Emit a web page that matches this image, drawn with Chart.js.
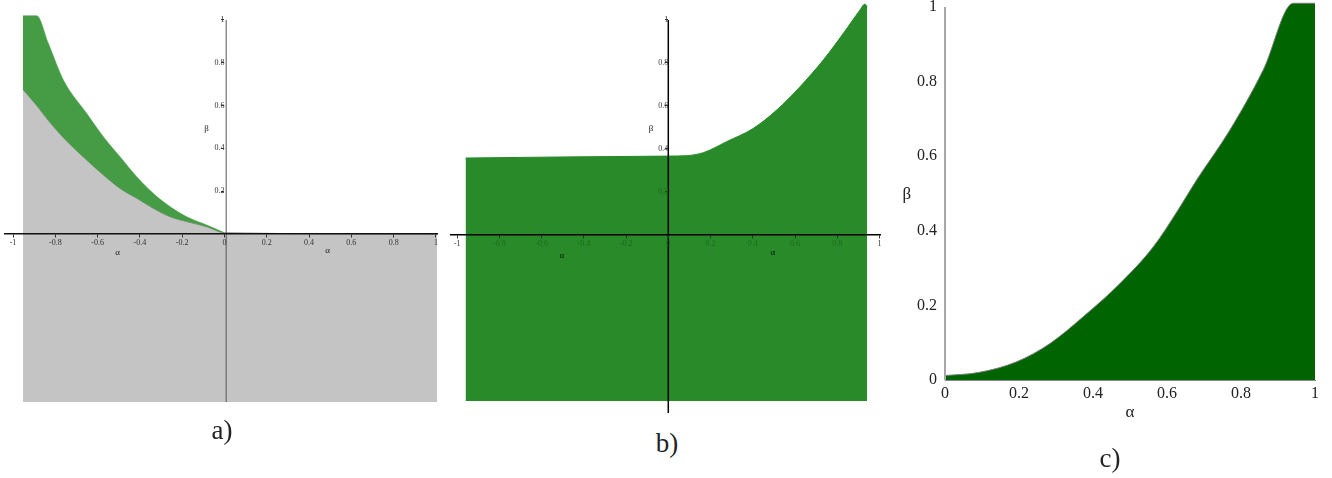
<!DOCTYPE html>
<html>
<head>
<meta charset="utf-8">
<script src="https://cdn.jsdelivr.net/npm/chart.js@4.4.1/dist/chart.umd.min.js"></script>
<style>
  body { margin: 0; background: #fff; width: 1332px; height: 478px; position: relative; overflow: hidden; }
  .panel { position: absolute; }
  .cap { position: absolute; width: 60px; text-align: center; font-family: "Liberation Serif", serif; font-size: 27px; line-height: 27px; color: #222; }
</style>
</head>
<body>
<div class="panel" style="left:0;top:0"><canvas id="chart-a" width="450" height="420"></canvas></div>
<div class="panel" style="left:450px;top:-10px"><canvas id="chart-b" width="440" height="432"></canvas></div>
<div class="panel" style="left:900px;top:-18px"><canvas id="chart-c" width="432" height="496"></canvas></div>
<div class="cap" style="left:192px;top:417px">a)</div>
<div class="cap" style="left:637px;top:430px">b)</div>
<div class="cap" style="left:1080px;top:445px">c)</div>
<script>
// panel a: green band between two curves, grey region below
const alphaA = [-0.953, -0.888, -0.833, -0.762, -0.652, -0.573, -0.494, -0.415, -0.337, -0.258, -0.179, -0.084, 0];
const upperA = [1.02, 1.02, 0.891, 0.72, 0.564, 0.455, 0.361, 0.268, 0.19, 0.128, 0.081, 0.042, 0.006];
const greyAlphaA = [-0.953, -0.888, -0.833, -0.762, -0.652, -0.573, -0.494, -0.415, -0.337, -0.258, -0.179, -0.084, 0, 1.008];
const greyBetaA = [0.675, 0.6, 0.53, 0.45, 0.346, 0.276, 0.213, 0.167, 0.12, 0.081, 0.058, 0.034, 0.006, 0];
const greyFloorA = -0.785;

// panel b: one green region
const alphaB = [-0.96, -0.5, 0, 0.087, 0.166, 0.276, 0.403, 0.513, 0.624, 0.734, 0.829, 0.908, 0.931, 0.942];
const betaB = [0.358, 0.363, 0.367, 0.369, 0.383, 0.434, 0.496, 0.581, 0.69, 0.814, 0.938, 1.047, 1.074, 1.06];
const floorB = -0.772;

// panel c: region below the boundary curve
const alphaC = [0, 0.09, 0.194, 0.284, 0.374, 0.473, 0.563, 0.63, 0.68, 0.77, 0.86, 0.941, 1.0];
const betaC = [0.012, 0.02, 0.049, 0.098, 0.17, 0.259, 0.357, 0.456, 0.536, 0.67, 0.831, 1.01, 1.01];

const tickStep = 0.2;

const pts = (xs, ys) => xs.map((x, i) => ({x: x, y: ys[i]}));
const fmt = v => String(+v.toFixed(1));
const serif = '"Liberation Serif", "Times New Roman", serif';

// vertical axis lines and the extra alpha / beta letters, placed through the scales
const axisText = {
  id: 'axisText',
  afterDatasetsDraw(chart, args, opts) {
    const ctx = chart.ctx;
    const sx = chart.scales.x, sy = chart.scales.y;
    ctx.save();
    (opts.lines || []).forEach(l => {
      ctx.strokeStyle = l.color;
      ctx.lineWidth = l.width;
      ctx.beginPath();
      ctx.moveTo(sx.getPixelForValue(l.x1), sy.getPixelForValue(l.y1));
      ctx.lineTo(sx.getPixelForValue(l.x2), sy.getPixelForValue(l.y2));
      ctx.stroke();
    });
    ctx.font = opts.font;
    ctx.fillStyle = opts.color;
    ctx.textAlign = 'center';
    ctx.textBaseline = 'middle';
    opts.items.forEach(it => {
      ctx.fillText(it.text, sx.getPixelForValue(it.x), sy.getPixelForValue(it.y));
    });
    ctx.restore();
  }
};

const smallTicks = {family: serif, size: 8};

function crossAxes(xr, yr, xCol, yCol, xBorder) {
  return {
    x: {
      type: 'linear', min: xr[0], max: xr[1], position: {y: 0},
      ticks: {stepSize: tickStep, includeBounds: false, autoSkip: false, maxRotation: 0, z: 2,
        font: smallTicks, color: xCol, padding: 1, callback: v => fmt(v)},
      grid: {drawOnChartArea: false, tickLength: 3, color: '#333', z: 1},
      border: Object.assign({z: 1}, xBorder)
    },
    y: {
      type: 'linear', min: yr[0], max: yr[1], position: {x: 0},
      ticks: {stepSize: tickStep, includeBounds: false, autoSkip: false, z: 2,
        font: smallTicks, color: yCol, padding: 4, callback: v => (v > 0.01 && v < 1.01) ? fmt(v) : null},
      grid: {drawOnChartArea: false, tickLength: 3, color: '#333', z: 1},
      border: {display: false}
    }
  };
}

new Chart(document.getElementById('chart-a'), {
  type: 'line',
  data: {
    datasets: [
      {data: pts(alphaA, upperA), fill: '+1', backgroundColor: '#459c45', borderColor: '#459c45', borderWidth: 0.5,
        pointRadius: 0, cubicInterpolationMode: 'monotone', clip: false},
      {data: pts(greyAlphaA, greyBetaA), fill: {value: greyFloorA}, backgroundColor: '#c4c4c4',
        borderColor: '#6a6a6a', borderWidth: 0.7, pointRadius: 0, cubicInterpolationMode: 'monotone', clip: false}
    ]
  },
  options: {
    responsive: false, animation: false,
    layout: {autoPadding: false, padding: {left: 5, right: 13, top: 14, bottom: 18}},
    plugins: {
      legend: {display: false}, tooltip: {enabled: false},
      axisText: {font: '9px ' + serif, color: '#222',
        lines: [{x1: 0.008, y1: 1, x2: 0.008, y2: greyFloorA, color: '#555', width: 1}],
        items: [{text: 'α', x: -0.506, y: -0.089}, {text: 'α', x: 0.488, y: -0.079}, {text: 'β', x: -0.085, y: 0.49}]}
    },
    scales: crossAxes([-1.038, 1.005], [greyFloorA, 1.028], '#333', '#333', {color: '#111', width: 1.5})
  },
  plugins: [axisText]
});

new Chart(document.getElementById('chart-b'), {
  type: 'line',
  data: {
    datasets: [
      {data: pts(alphaB, betaB), fill: {value: floorB}, backgroundColor: '#288a28', borderColor: '#288a28',
        borderWidth: 1, pointRadius: 0, cubicInterpolationMode: 'monotone', clip: false}
    ]
  },
  options: {
    responsive: false, animation: false,
    layout: {autoPadding: false, padding: {left: 0, right: 10, top: 12, bottom: 9}},
    plugins: {
      legend: {display: false}, tooltip: {enabled: false},
      axisText: {font: '9px ' + serif, color: '#111',
        lines: [{x1: 0, y1: 1, x2: 0, y2: -0.828, color: '#000', width: 1.5}],
        items: [{text: 'α', x: -0.504, y: -0.098}, {text: 'α', x: 0.495, y: -0.084}, {text: 'β', x: -0.082, y: 0.493}]}
    },
    scales: crossAxes([-1.0336, 1.0024], [-0.828, 1.0837],
      c => (c.tick && c.tick.value > alphaB[0] && c.tick.value < alphaB[alphaB.length - 1]) ? '#1c6a1c' : '#333',
      c => (c.tick && c.tick.value < betaB[0]) ? '#1c6a1c' : '#333',
      {color: '#000', width: 1.5})
  },
  plugins: [axisText]
});

new Chart(document.getElementById('chart-c'), {
  type: 'line',
  data: {
    datasets: [
      {data: pts(alphaC, betaC), fill: 'origin', backgroundColor: '#006400', borderColor: '#7a7a7a',
        borderWidth: 1, pointRadius: 0, cubicInterpolationMode: 'monotone', clip: false}
    ]
  },
  options: {
    responsive: false, animation: false,
    layout: {autoPadding: false, padding: {left: 0, right: 17, top: 20, bottom: 58}},
    plugins: {
      legend: {display: false}, tooltip: {enabled: false},
      axisText: {font: '17px ' + serif, color: '#222',
        lines: [{x1: 0, y1: 1, x2: 0, y2: 0, color: '#a6a6a6', width: 2}],
        items: [{text: 'α', x: 0.5, y: -0.088}, {text: 'β', x: -0.103, y: 0.496}]}
    },
    scales: {
      x: {
        type: 'linear', min: 0, max: 1,
        afterFit: s => { s.height = 40; },
        ticks: {stepSize: tickStep, includeBounds: false, autoSkip: false, maxRotation: 0,
          font: {family: serif, size: 16}, color: '#222', padding: 4, callback: v => fmt(v)},
        grid: {display: false, drawTicks: false},
        border: {color: '#8a8a8a', width: 1, dash: [1, 2], z: 1}
      },
      y: {
        type: 'linear', min: 0, max: 1.0134,
        afterFit: s => { s.width = 45; },
        ticks: {stepSize: tickStep, includeBounds: false, autoSkip: false,
          font: {family: serif, size: 16}, color: '#222', padding: 8, callback: v => fmt(v)},
        grid: {display: false, drawTicks: false},
        border: {display: false}
      }
    }
  },
  plugins: [axisText]
});
</script>
</body>
</html>
